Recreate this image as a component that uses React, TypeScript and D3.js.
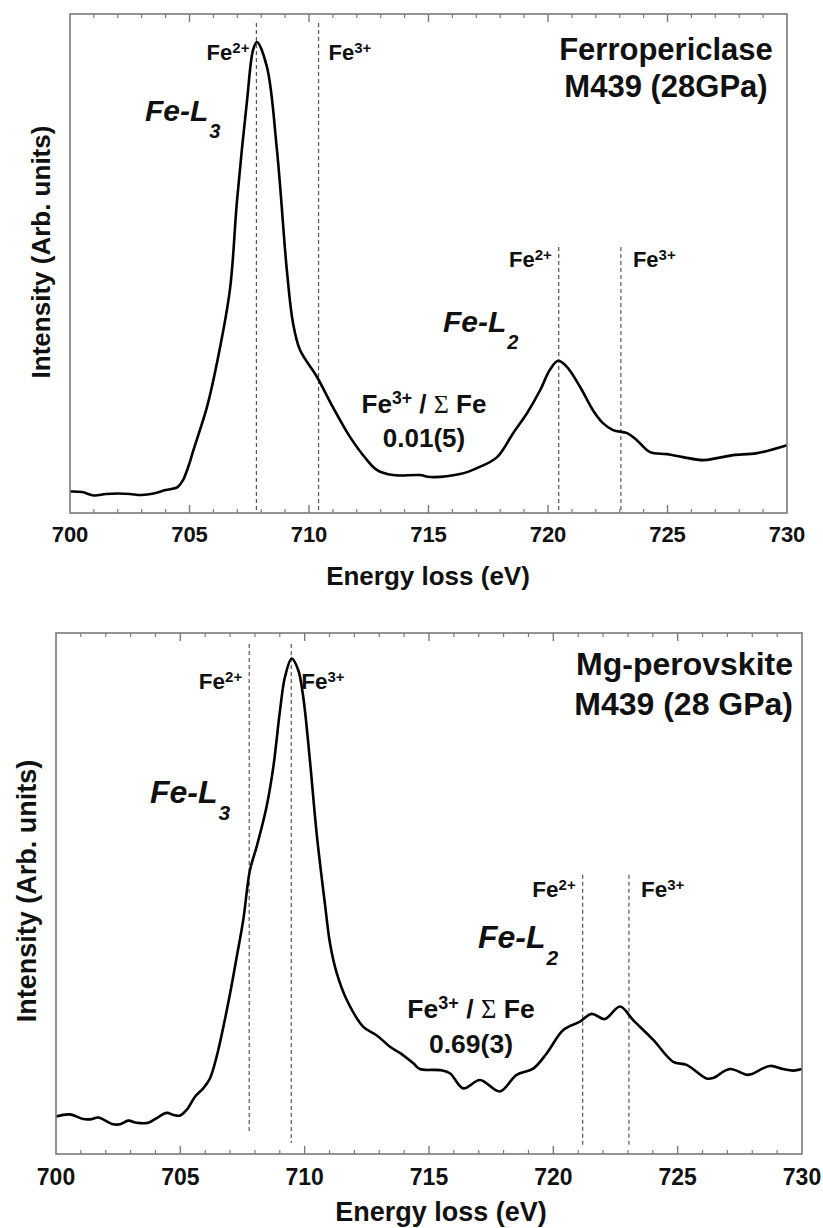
import React from "react";
import * as d3 from "d3";

// ---------- data ----------
const tickValues = [700, 705, 710, 715, 720, 725, 730];
const tickLabels = ["700", "705", "710", "715", "720", "725", "730"];

// Ferropericlase spectrum (Energy loss eV, arbitrary intensity)
const fpEnergy = [
  700.0, 700.5, 701.0, 701.5, 702.0, 702.5, 703.0, 703.5, 704.0, 704.5, 704.73, 705.0,
  705.15, 705.73, 706.15, 706.69, 706.99, 707.41, 707.66, 707.82, 708.24, 708.66, 709.08,
  709.33, 709.62, 710.33, 711.0, 711.72, 712.43, 712.85, 713.51, 714.64, 715.06, 716.32,
  717.03, 717.87, 718.54, 719.12, 719.67, 720.08, 720.42, 720.79, 721.34, 721.88, 722.3,
  722.72, 723.31, 723.72, 724.27, 724.98, 725.65, 726.49, 727.07, 727.74, 728.74, 730.0,
];
const fpIntensity = [
  4.3, 4.2, 3.5, 3.8, 3.9, 3.8, 3.6, 3.9, 4.6, 5.2, 6.6, 10.0,
  12.4, 21.2, 30.1, 44.7, 62.7, 82.8, 92.8, 94.4, 89.4, 72.7, 48.3,
  38.1, 32.7, 27.3, 21.2, 15.2, 10.6, 8.6, 7.6, 7.6, 7.2, 7.8,
  9.0, 11.2, 16.0, 20.0, 24.6, 28.7, 30.5, 29.3, 25.3, 20.6, 18.0,
  16.6, 16.0, 14.6, 12.2, 11.8, 11.2, 10.6, 11.0, 11.6, 12.0, 13.6,
];

// Mg-perovskite spectrum
const pvEnergy = [
  700.0, 700.56, 701.1, 701.44, 701.7, 702.3, 702.57, 702.91, 703.24, 703.71, 704.05, 704.45,
  704.72, 704.99, 705.26, 705.59, 705.92, 706.19, 706.46, 706.73, 707.0, 707.27, 707.53,
  707.8, 708.07, 708.47, 708.74, 709.01, 709.21, 709.48, 709.74, 709.94, 710.21, 710.48,
  710.82, 711.02, 711.29, 711.69, 712.36, 712.89, 713.43, 713.83, 714.37, 714.64, 715.44,
  715.84, 716.38, 717.05, 717.85, 718.52, 719.19, 719.73, 720.4, 721.07, 721.54, 722.07,
  722.68, 723.21, 724.02, 724.82, 725.36, 726.16, 726.43, 727.1, 727.77, 727.95, 728.71,
  729.24, 729.65, 730.0,
];
const pvIntensity = [
  7.2, 7.6, 6.7, 6.7, 7.0, 5.7, 5.7, 6.4, 6.0, 6.0, 6.9, 7.9,
  7.5, 7.4, 8.5, 11.0, 12.6, 14.5, 18.7, 24.4, 30.8, 37.9, 44.9,
  54.5, 59.0, 66.7, 74.3, 85.2, 91.6, 95.1, 92.9, 87.8, 75.6, 61.6,
  47.8, 40.4, 34.7, 29.6, 24.4, 22.8, 20.6, 19.4, 17.4, 16.3, 16.1,
  15.5, 12.6, 14.2, 12.0, 15.2, 16.4, 19.3, 23.8, 25.4, 26.9, 25.9,
  28.3, 25.7, 21.9, 17.7, 17.1, 14.5, 14.6, 16.3, 15.2, 15.3, 16.9,
  16.3, 16.0, 16.3,
];

// Reference edge positions (eV)
const fpFe2Lines = [707.8, 720.45];
const fpFe3Lines = [710.4, 723.05];
const pvFe2Lines = [707.77, 721.18];
const pvFe3Lines = [709.46, 723.04];

const fpTitle = ["Ferropericlase", "M439 (28GPa)"];
const pvTitle = ["Mg-perovskite", "M439 (28 GPa)"];
const fpRatio = "0.01(5)";
const pvRatio = "0.69(3)";

const xTitle = "Energy loss (eV)";
const yTitle = "Intensity (Arb. units)";

// ---------- layout ----------
const FONT = "'Liberation Sans', Arial, Helvetica, sans-serif";
const SERIF = "'Liberation Serif', 'DejaVu Serif', serif";

type Layout = {
  left: number; right: number; top: number; bottom: number;
  energy: number[]; intensity: number[];
  fe2: number[]; fe3: number[];
  l3Top: number; l2Top: number; lineBottom: number[];
  title: string[]; titleAnchor: string; titleX: number; titleY: number[]; titleSize: number;
  ionSize: number; supSize: number; supDy: number;
  ionY: number[]; ionPad: number;
  edgeSize: number; subSize: number; subDy: number;
  l3Label: [number, number]; l2Label: [number, number];
  ratio: string; ratioX: number; ratioY: [number, number]; ratioSize: number;
  tickLabelY: number; tickLabelSize: number;
  xTitleX: number; xTitleY: number; axisTitleSize: number;
  yTitleX: number; yTitleY: number;
};

const topLayout: Layout = {
  left: 70, right: 787, top: 14, bottom: 513,
  energy: fpEnergy, intensity: fpIntensity,
  fe2: fpFe2Lines, fe3: fpFe3Lines,
  l3Top: 98.2, l2Top: 53.3, lineBottom: [0, 0, 0, 0],
  title: fpTitle, titleAnchor: "middle", titleX: 666, titleY: [60, 97], titleSize: 31,
  ionSize: 22, supSize: 15, supDy: -7,
  ionY: [60, 267], ionPad: 7,
  edgeSize: 30, subSize: 20, subDy: 17,
  l3Label: [145, 121], l2Label: [443, 332],
  ratio: fpRatio, ratioX: 424, ratioY: [413, 447], ratioSize: 26,
  tickLabelY: 542, tickLabelSize: 22,
  xTitleX: 428, xTitleY: 585, axisTitleSize: 26,
  yTitleX: 50, yTitleY: 252,
};

const bottomLayout: Layout = {
  left: 56, right: 802, top: 633, bottom: 1154,
  energy: pvEnergy, intensity: pvIntensity,
  fe2: pvFe2Lines, fe3: pvFe3Lines,
  l3Top: 97.9, l2Top: 53.6, lineBottom: [4.0, 2.1, 1.3, 1.3],
  title: pvTitle, titleAnchor: "end", titleX: 793, titleY: [675, 715], titleSize: 32,
  ionSize: 22.5, supSize: 15, supDy: -7,
  ionY: [689, 897], ionPad: 7,
  edgeSize: 32, subSize: 21, subDy: 17,
  l3Label: [150, 803], l2Label: [478, 948],
  ratio: pvRatio, ratioX: 471, ratioY: [1018, 1053], ratioSize: 26.5,
  tickLabelY: 1185, tickLabelSize: 23,
  xTitleX: 441, xTitleY: 1221, axisTitleSize: 27,
  yTitleX: 36, yTitleY: 891,
};

function IonLabel({ x, y, anchor, charge, L }: { x: number; y: number; anchor: string; charge: string; L: Layout }) {
  return (
    <text x={x} y={y} textAnchor={anchor} fontSize={L.ionSize} fontWeight="bold" fontFamily={FONT} fill="#111">
      Fe
      <tspan dy={L.supDy} fontSize={L.supSize}>{charge}</tspan>
    </text>
  );
}

function EdgeLabel({ x, y, sub, L }: { x: number; y: number; sub: string; L: Layout }) {
  return (
    <text x={x} y={y} fontSize={L.edgeSize} fontWeight="bold" fontStyle="italic" fontFamily={FONT} fill="#111">
      Fe-L
      <tspan dx={1} dy={L.subDy} fontSize={L.subSize}>{sub}</tspan>
    </text>
  );
}

function Panel({ L }: { L: Layout }) {
  const x = d3.scaleLinear().domain([700, 730]).range([L.left, L.right]);
  const y = d3.scaleLinear().domain([0, 100]).range([L.bottom, L.top]);
  const pts: [number, number][] = L.energy.map((e, i) => [e, L.intensity[i]]);
  const line = d3
    .line<[number, number]>()
    .x((d) => x(d[0]))
    .y((d) => y(d[1]))
    .curve(d3.curveCatmullRom.alpha(0.5));
  const minor = d3.range(701, 730, 1).filter((v) => v % 5 !== 0);
  const major = tickValues.slice(1, -1);

  const dashed = [
    { e: L.fe2[0], top: L.l3Top, bot: L.lineBottom[0] },
    { e: L.fe3[0], top: L.l3Top, bot: L.lineBottom[1] },
    { e: L.fe2[1], top: L.l2Top, bot: L.lineBottom[2] },
    { e: L.fe3[1], top: L.l2Top, bot: L.lineBottom[3] },
  ];

  return (
    <g>
      {dashed.map((d, i) => (
        <line key={"d" + i} x1={x(d.e)} x2={x(d.e)} y1={y(d.top)} y2={y(d.bot)}
          stroke="#555" strokeWidth={1.2} strokeDasharray="4,3" />
      ))}
      <path d={line(pts) || ""} fill="none" stroke="#000" strokeWidth={2.6} strokeLinejoin="round" />
      {/* frame */}
      <rect x={L.left} y={L.top} width={L.right - L.left} height={L.bottom - L.top}
        fill="none" stroke="#7a7a7a" strokeWidth={1.6} />
      {/* ticks */}
      {major.map((v) => (
        <g key={"M" + v}>
          <line x1={x(v)} x2={x(v)} y1={L.bottom} y2={L.bottom - 8} stroke="#7a7a7a" strokeWidth={1.4} />
          <line x1={x(v)} x2={x(v)} y1={L.top} y2={L.top + 8} stroke="#7a7a7a" strokeWidth={1.4} />
        </g>
      ))}
      {minor.map((v) => (
        <g key={"m" + v}>
          <line x1={x(v)} x2={x(v)} y1={L.bottom} y2={L.bottom - 4} stroke="#7a7a7a" strokeWidth={1.2} />
          <line x1={x(v)} x2={x(v)} y1={L.top} y2={L.top + 4} stroke="#7a7a7a" strokeWidth={1.2} />
        </g>
      ))}
      {tickValues.map((v, i) => (
        <text key={"t" + v} x={x(v)} y={L.tickLabelY} textAnchor="middle" fontSize={L.tickLabelSize}
          fontWeight="bold" fontFamily={FONT} fill="#111">{tickLabels[i]}</text>
      ))}
      <text x={L.xTitleX} y={L.xTitleY} textAnchor="middle" fontSize={L.axisTitleSize} fontWeight="bold"
        fontFamily={FONT} fill="#111">{xTitle}</text>
      <text transform={`translate(${L.yTitleX},${L.yTitleY}) rotate(-90)`} textAnchor="middle"
        fontSize={L.axisTitleSize} fontWeight="bold" fontFamily={FONT} fill="#111">{yTitle}</text>

      {/* ion labels */}
      <IonLabel x={x(L.fe2[0]) - L.ionPad} y={L.ionY[0]} anchor="end" charge="2+" L={L} />
      <IonLabel x={x(L.fe3[0]) + L.ionPad + 3} y={L.ionY[0]} anchor="start" charge="3+" L={L} />
      <IonLabel x={x(L.fe2[1]) - L.ionPad} y={L.ionY[1]} anchor="end" charge="2+" L={L} />
      <IonLabel x={x(L.fe3[1]) + L.ionPad + 5} y={L.ionY[1]} anchor="start" charge="3+" L={L} />

      <EdgeLabel x={L.l3Label[0]} y={L.l3Label[1]} sub="3" L={L} />
      <EdgeLabel x={L.l2Label[0]} y={L.l2Label[1]} sub="2" L={L} />

      {/* ratio */}
      <text x={L.ratioX} y={L.ratioY[0]} textAnchor="middle" fontSize={L.ratioSize} fontWeight="bold"
        fontFamily={FONT} fill="#111">
        Fe<tspan dy={-9} fontSize={L.ratioSize * 0.68}>3+</tspan>
        <tspan dy={9}> / </tspan>
        <tspan fontFamily={SERIF} fontWeight="normal">Σ</tspan>
        <tspan> Fe</tspan>
      </text>
      <text x={L.ratioX} y={L.ratioY[1]} textAnchor="middle" fontSize={L.ratioSize} fontWeight="bold"
        fontFamily={FONT} fill="#111">{L.ratio}</text>

      {/* title */}
      {L.title.map((t, i) => (
        <text key={"ti" + i} x={L.titleX} y={L.titleY[i]} textAnchor={L.titleAnchor} fontSize={L.titleSize}
          fontWeight="bold" fontFamily={FONT} fill="#111">{t}</text>
      ))}
    </g>
  );
}

export default function App() {
  return (
    <svg width={823} height={1228} viewBox="0 0 823 1228"
      style={{ position: "absolute", left: 0, top: 0, background: "#fff", display: "block" }}>
      <rect x={0} y={0} width={823} height={1228} fill="#fff" />
      <Panel L={topLayout} />
      <Panel L={bottomLayout} />
    </svg>
  );
}
